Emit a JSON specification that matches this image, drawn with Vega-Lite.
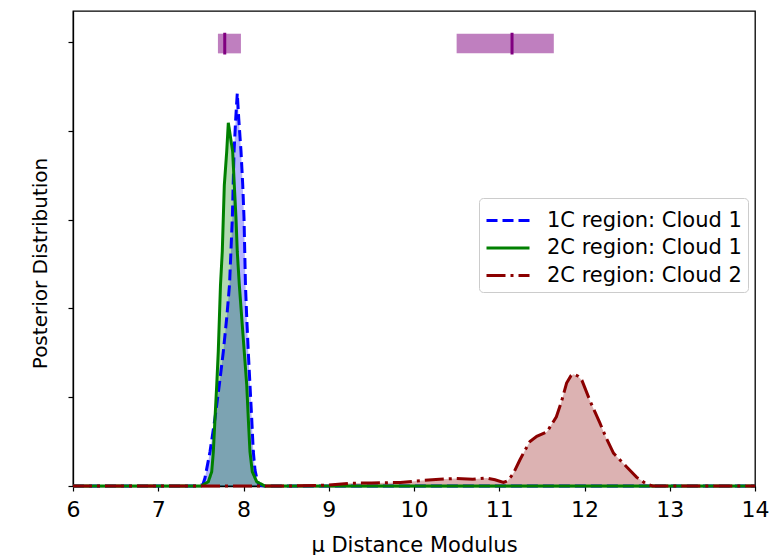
{
  "$schema": "https://vega.github.io/schema/vega-lite/v6.json",
  "width": 682,
  "height": 475,
  "autosize": "none",
  "padding": {"left": 73, "top": 11, "right": 19, "bottom": 69},
  "config": {
    "view": {"stroke": "#000000", "strokeWidth": 1.3},
    "font": "DejaVu Sans",
    "axis": {"grid": false, "domainColor": "#000000", "tickColor": "#000000", "domainWidth": 1.3, "tickWidth": 1.2, "tickSize": 5, "labelColor": "#000000", "titleColor": "#000000", "titleFontWeight": "normal", "labelFont": "DejaVu Sans", "titleFont": "DejaVu Sans"},
    "legend": {"symbolType": "M-1,0H1.8667", "symbolSize": 900, "symbolStrokeWidth": 3, "labelFontSize": 21, "labelFont": "DejaVu Sans", "labelColor": "#000000", "labelLimit": 0, "rowPadding": 0.5, "padding": 6, "labelOffset": 29, "strokeColor": "#cccccc", "fillColor": "#ffffff", "cornerRadius": 4}
  },
  "datasets": {
    "curves": [
      {"series": "1C region: Cloud 1", "x": 6.0, "y": 0},
      {"series": "1C region: Cloud 1", "x": 7.45, "y": 0},
      {"series": "1C region: Cloud 1", "x": 7.525, "y": 0.02},
      {"series": "1C region: Cloud 1", "x": 7.548, "y": 0.09},
      {"series": "1C region: Cloud 1", "x": 7.607, "y": 0.386},
      {"series": "1C region: Cloud 1", "x": 7.666, "y": 0.766},
      {"series": "1C region: Cloud 1", "x": 7.716, "y": 1.137},
      {"series": "1C region: Cloud 1", "x": 7.763, "y": 1.512},
      {"series": "1C region: Cloud 1", "x": 7.803, "y": 1.892},
      {"series": "1C region: Cloud 1", "x": 7.836, "y": 2.264},
      {"series": "1C region: Cloud 1", "x": 7.869, "y": 3.018},
      {"series": "1C region: Cloud 1", "x": 7.889, "y": 3.765},
      {"series": "1C region: Cloud 1", "x": 7.909, "y": 4.141},
      {"series": "1C region: Cloud 1", "x": 7.927, "y": 4.422},
      {"series": "1C region: Cloud 1", "x": 7.944, "y": 4.141},
      {"series": "1C region: Cloud 1", "x": 7.971, "y": 3.765},
      {"series": "1C region: Cloud 1", "x": 7.991, "y": 3.39},
      {"series": "1C region: Cloud 1", "x": 8.006, "y": 3.018},
      {"series": "1C region: Cloud 1", "x": 8.023, "y": 2.264},
      {"series": "1C region: Cloud 1", "x": 8.038, "y": 1.892},
      {"series": "1C region: Cloud 1", "x": 8.056, "y": 1.512},
      {"series": "1C region: Cloud 1", "x": 8.076, "y": 1.137},
      {"series": "1C region: Cloud 1", "x": 8.096, "y": 0.766},
      {"series": "1C region: Cloud 1", "x": 8.115, "y": 0.386},
      {"series": "1C region: Cloud 1", "x": 8.135, "y": 0.18},
      {"series": "1C region: Cloud 1", "x": 8.155, "y": 0.09},
      {"series": "1C region: Cloud 1", "x": 8.18, "y": 0.01},
      {"series": "1C region: Cloud 1", "x": 8.25, "y": 0},
      {"series": "1C region: Cloud 1", "x": 14.0, "y": 0},
      {"series": "2C region: Cloud 1", "x": 6.0, "y": 0},
      {"series": "2C region: Cloud 1", "x": 7.5, "y": 0},
      {"series": "2C region: Cloud 1", "x": 7.587, "y": 0.048},
      {"series": "2C region: Cloud 1", "x": 7.627, "y": 0.161},
      {"series": "2C region: Cloud 1", "x": 7.646, "y": 0.386},
      {"series": "2C region: Cloud 1", "x": 7.666, "y": 0.766},
      {"series": "2C region: Cloud 1", "x": 7.686, "y": 1.137},
      {"series": "2C region: Cloud 1", "x": 7.704, "y": 1.512},
      {"series": "2C region: Cloud 1", "x": 7.73, "y": 2.264},
      {"series": "2C region: Cloud 1", "x": 7.751, "y": 2.639},
      {"series": "2C region: Cloud 1", "x": 7.763, "y": 3.018},
      {"series": "2C region: Cloud 1", "x": 7.775, "y": 3.39},
      {"series": "2C region: Cloud 1", "x": 7.803, "y": 3.765},
      {"series": "2C region: Cloud 1", "x": 7.822, "y": 4.091},
      {"series": "2C region: Cloud 1", "x": 7.873, "y": 3.765},
      {"series": "2C region: Cloud 1", "x": 7.892, "y": 3.39},
      {"series": "2C region: Cloud 1", "x": 7.912, "y": 3.018},
      {"series": "2C region: Cloud 1", "x": 7.927, "y": 2.639},
      {"series": "2C region: Cloud 1", "x": 7.951, "y": 2.264},
      {"series": "2C region: Cloud 1", "x": 8.009, "y": 1.512},
      {"series": "2C region: Cloud 1", "x": 8.038, "y": 1.137},
      {"series": "2C region: Cloud 1", "x": 8.056, "y": 0.766},
      {"series": "2C region: Cloud 1", "x": 8.076, "y": 0.386},
      {"series": "2C region: Cloud 1", "x": 8.103, "y": 0.161},
      {"series": "2C region: Cloud 1", "x": 8.155, "y": 0.048},
      {"series": "2C region: Cloud 1", "x": 8.25, "y": 0},
      {"series": "2C region: Cloud 1", "x": 14.0, "y": 0},
      {"series": "2C region: Cloud 2", "x": 6.0, "y": 0},
      {"series": "2C region: Cloud 2", "x": 8.5, "y": 0},
      {"series": "2C region: Cloud 2", "x": 9.0, "y": 0.01},
      {"series": "2C region: Cloud 2", "x": 9.25, "y": 0.03},
      {"series": "2C region: Cloud 2", "x": 9.5, "y": 0.035},
      {"series": "2C region: Cloud 2", "x": 9.84, "y": 0.04},
      {"series": "2C region: Cloud 2", "x": 10.07, "y": 0.06},
      {"series": "2C region: Cloud 2", "x": 10.3, "y": 0.075},
      {"series": "2C region: Cloud 2", "x": 10.5, "y": 0.085},
      {"series": "2C region: Cloud 2", "x": 10.69, "y": 0.075},
      {"series": "2C region: Cloud 2", "x": 10.85, "y": 0.09},
      {"series": "2C region: Cloud 2", "x": 10.95, "y": 0.07},
      {"series": "2C region: Cloud 2", "x": 11.05, "y": 0.04},
      {"series": "2C region: Cloud 2", "x": 11.1, "y": 0.06},
      {"series": "2C region: Cloud 2", "x": 11.165, "y": 0.14},
      {"series": "2C region: Cloud 2", "x": 11.24, "y": 0.29},
      {"series": "2C region: Cloud 2", "x": 11.3, "y": 0.4},
      {"series": "2C region: Cloud 2", "x": 11.36, "y": 0.5},
      {"series": "2C region: Cloud 2", "x": 11.44, "y": 0.56},
      {"series": "2C region: Cloud 2", "x": 11.56, "y": 0.61},
      {"series": "2C region: Cloud 2", "x": 11.67, "y": 0.78},
      {"series": "2C region: Cloud 2", "x": 11.73, "y": 0.95},
      {"series": "2C region: Cloud 2", "x": 11.79, "y": 1.16},
      {"series": "2C region: Cloud 2", "x": 11.84, "y": 1.24},
      {"series": "2C region: Cloud 2", "x": 11.87, "y": 1.26},
      {"series": "2C region: Cloud 2", "x": 11.92, "y": 1.24},
      {"series": "2C region: Cloud 2", "x": 11.97, "y": 1.19},
      {"series": "2C region: Cloud 2", "x": 12.06, "y": 0.97},
      {"series": "2C region: Cloud 2", "x": 12.18, "y": 0.71},
      {"series": "2C region: Cloud 2", "x": 12.26, "y": 0.53},
      {"series": "2C region: Cloud 2", "x": 12.34, "y": 0.37},
      {"series": "2C region: Cloud 2", "x": 12.49, "y": 0.22},
      {"series": "2C region: Cloud 2", "x": 12.61, "y": 0.1},
      {"series": "2C region: Cloud 2", "x": 12.73, "y": 0.02},
      {"series": "2C region: Cloud 2", "x": 12.8, "y": 0},
      {"series": "2C region: Cloud 2", "x": 14.0, "y": 0}
    ],
    "ranges": [
      {"lo": 7.70, "hi": 7.97, "mid": 7.78, "ylo": 4.873, "yhi": 5.094, "tlo": 4.86, "thi": 5.105},
      {"lo": 10.50, "hi": 11.64, "mid": 11.15, "ylo": 4.873, "yhi": 5.094, "tlo": 4.86, "thi": 5.105}
    ]
  },
  "layer": [
    {
      "data": {"name": "ranges"},
      "mark": {"type": "rect", "color": "#800080", "opacity": 0.5},
      "encoding": {
        "x": {"field": "lo", "type": "quantitative", "scale": {"domain": [6, 14], "nice": false}},
        "x2": {"field": "hi"},
        "y": {"field": "ylo", "type": "quantitative", "scale": {"domain": [0, 5.35], "nice": false, "zero": false}},
        "y2": {"field": "yhi"}
      }
    },
    {
      "data": {"name": "ranges"},
      "mark": {"type": "rule", "color": "#800080", "strokeWidth": 3},
      "encoding": {
        "x": {"field": "mid", "type": "quantitative"},
        "y": {"field": "tlo", "type": "quantitative"},
        "y2": {"field": "thi"}
      }
    },
    {
      "data": {"name": "curves"},
      "mark": {"type": "area", "fillOpacity": 0.3},
      "encoding": {
        "x": {"field": "x", "type": "quantitative"},
        "y": {"field": "y", "type": "quantitative", "stack": null},
        "color": {"field": "series", "type": "nominal"}
      }
    },
    {
      "data": {"name": "curves"},
      "mark": {"type": "line", "strokeWidth": 3},
      "encoding": {
        "x": {"field": "x", "type": "quantitative",
          "axis": {"title": "μ Distance Modulus", "values": [6, 7, 8, 9, 10, 11, 12, 13, 14], "format": "d", "labelFontSize": 22, "titleFontSize": 21, "labelPadding": 8, "titlePadding": 14, "labelFlush": false}},
        "y": {"field": "y", "type": "quantitative",
          "axis": {"title": "Posterior Distribution", "values": [0, 1, 2, 3, 4, 5], "labels": false, "titleFontSize": 20, "titlePadding": 17, "titleY": 252}},
        "color": {"field": "series", "type": "nominal",
          "scale": {"domain": ["1C region: Cloud 1", "2C region: Cloud 1", "2C region: Cloud 2"], "range": ["#0000ff", "#008000", "#8b0000"]},
          "legend": {"title": null, "orient": "none", "legendX": 406, "legendY": 187, "labelLimit": 0}},
        "strokeDash": {"field": "series", "type": "nominal",
          "scale": {"domain": ["1C region: Cloud 1", "2C region: Cloud 1", "2C region: Cloud 2"], "range": [[11, 5], [1, 0], [19, 5, 3, 5]]},
          "legend": {"title": null, "orient": "none", "legendX": 406, "legendY": 187, "labelLimit": 0}}
      }
    }
  ]
}
